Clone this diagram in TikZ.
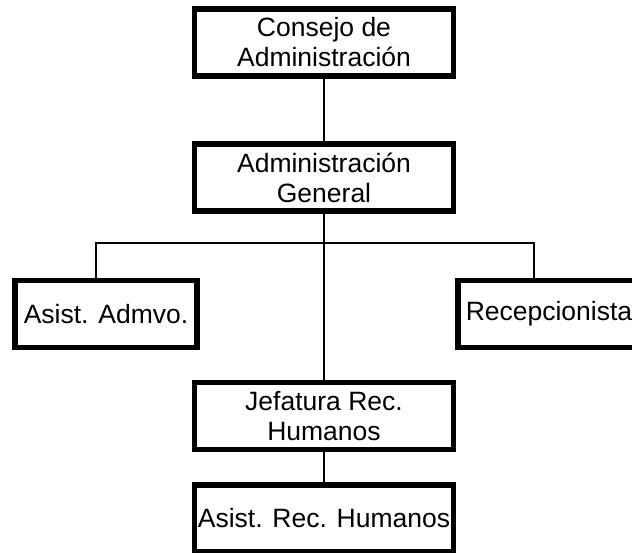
\documentclass[tikz,border=0pt]{standalone}
\usepackage{fontspec}
\setmainfont{Liberation Sans}
\usepackage{tikz}

\begin{document}
\begin{tikzpicture}[x=1pt,y=-1pt,
    puesto/.style={draw,line width=5.5pt,align=center,inner sep=0pt,
        minimum width=259pt,minimum height=67pt,
        font=\fontsize{26.5}{30}\selectfont},
    lado/.style={puesto,minimum width=182pt}]
            \fill[white] (0,0) rectangle (632,553);
            \useasboundingbox (0,0) rectangle (632,553);
            \node[puesto] (consejo) at (324,42.5) {Consejo de\\Administración};
            \node[puesto] (general) at (324,177.5) {Administración\\General};
            \node[lado] (asistadm) at (106,314) {Asist. Admvo.};
            \node[lado] (recep) at (549,314) {Recepcionista};
            \node[puesto] (jefatura) at (324,416) {Jefatura Rec.\\Humanos};
            \node[puesto] (asistrh) at (324,518.5) {Asist. Rec. Humanos};
            \coordinate (barizq) at (96,243);
            \coordinate (barder) at (534,243);
            
            \draw[line width=1.3pt] (consejo) -- (general);
            \draw[line width=1.3pt] (general) -- (jefatura);
            \draw[line width=1.3pt] (jefatura) -- (asistrh);
            \draw[line width=1.3pt] (barizq |- asistadm.north) -- (barizq) -- (barder) -- (barder |- recep.north);
        \end{tikzpicture}
\end{document}
